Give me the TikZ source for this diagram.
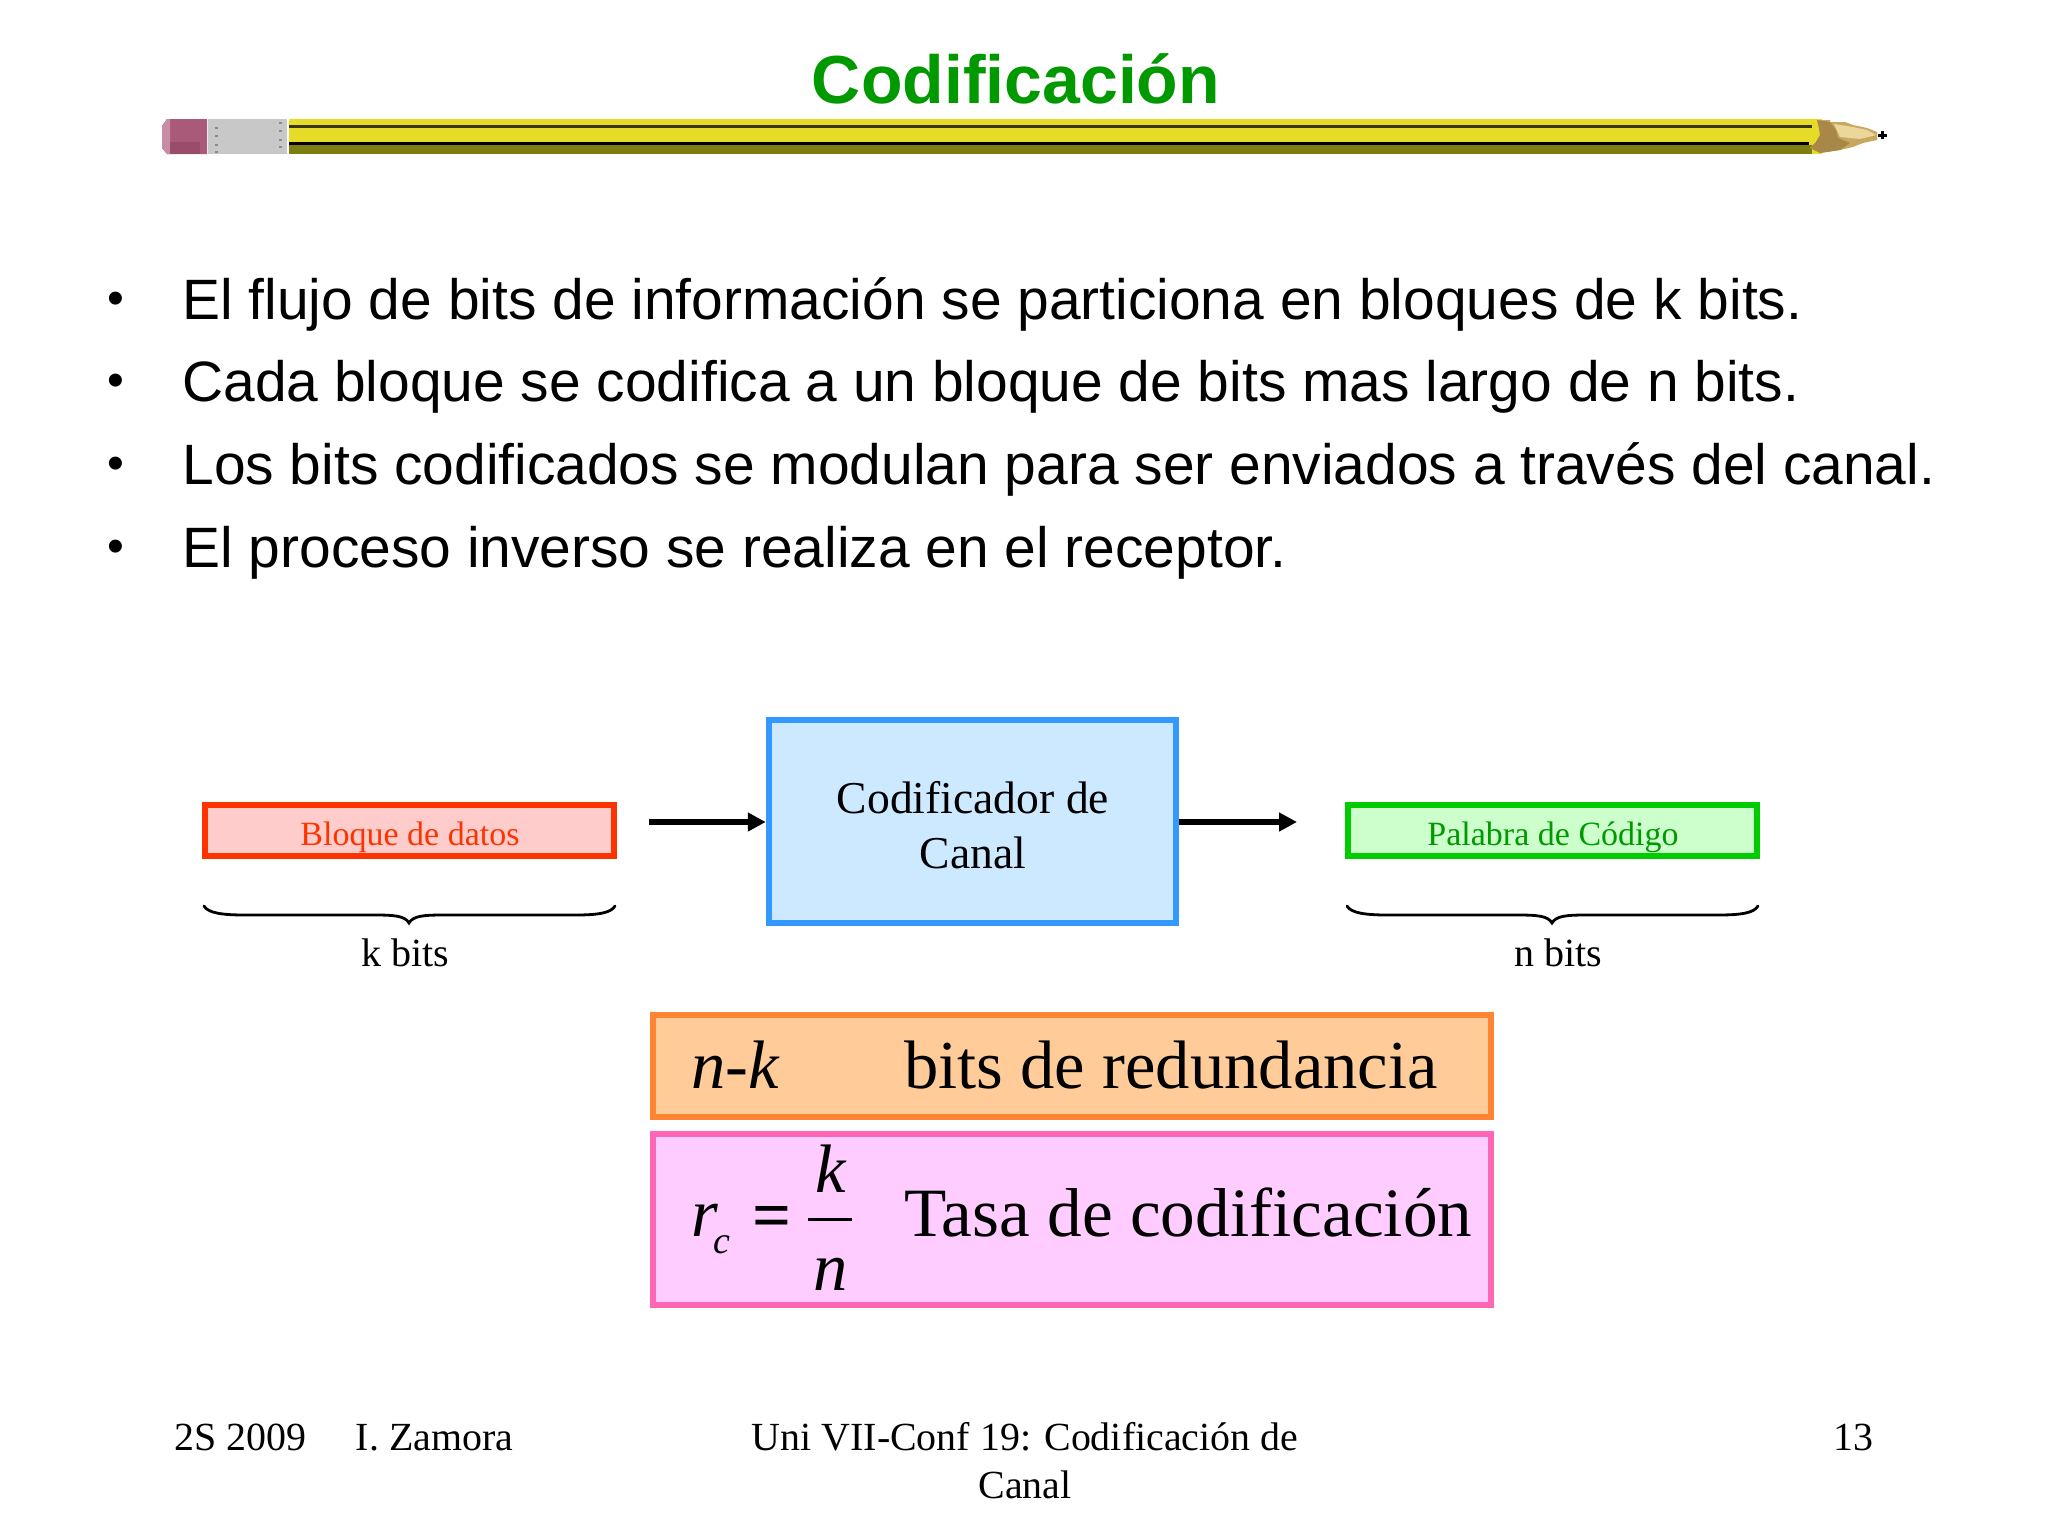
\documentclass[tikz,border=0pt]{standalone}
\usepackage{fontspec}
\setmainfont{Liberation Serif}
\newfontfamily\arialf{Liberation Sans}
\usetikzlibrary{arrows.meta}
\definecolor{titlegreen}{HTML}{009900}
\definecolor{redS}{HTML}{FF3300}\definecolor{redF}{HTML}{FFCCCC}
\definecolor{blueS}{HTML}{3399FF}\definecolor{blueF}{HTML}{CCE9FF}
\definecolor{greenS}{HTML}{00CC00}\definecolor{greenF}{HTML}{CCFFCC}\definecolor{greenT}{HTML}{009900}
\definecolor{orangeS}{HTML}{FF8533}\definecolor{orangeF}{HTML}{FFCC99}
\definecolor{pinkS}{HTML}{FF66B3}\definecolor{pinkF}{HTML}{FFCCFF}
\definecolor{eraser}{HTML}{A85A78}\definecolor{eraserD}{HTML}{8E3F60}\definecolor{eraserL}{HTML}{C88CA4}
\definecolor{ferrule}{HTML}{C8C8C8}\definecolor{ferruleD}{HTML}{8A8A8A}
\definecolor{yel}{HTML}{E6DC28}\definecolor{olive}{HTML}{7E7E10}\definecolor{darkl}{HTML}{3A3418}
\definecolor{wood}{HTML}{C8A860}\definecolor{woodL}{HTML}{EBD79C}\definecolor{woodD}{HTML}{A88848}
\newcommand{\fsz}[1]{\fontsize{#1}{#1}\selectfont}
\tikzset{
 boxb/.style={draw,line width=3pt,inner sep=0pt,align=center},
 txt/.style={inner sep=0pt,anchor=base},
 txtw/.style={inner sep=0pt,anchor=base west},
 bul/.style={txtw,font=\arialf\fsz{28.46}},
 foot/.style={txt,font=\fsz{19.95}},
 arrowk/.style={line width=2.8pt,-{Triangle[length=9pt,width=9pt]}},
 bracek/.style={line width=1.4pt,line cap=round},
 big/.style={txtw,font=\fsz{34.3}},
 mathi/.style={txt,font=\itshape\fsz{34.3}}
}
\begin{document}
\begin{tikzpicture}[x=0.5pt,y=-0.5pt]
\useasboundingbox (0,0) rectangle (2048,1536);
\fill[white] (0,0) rectangle (2048,1536);
% pencil
\fill[eraser] (162,126) -- (167,119) -- (207,119) -- (207,154) -- (167,154) -- (162,148) -- cycle;
\fill[eraserL] (162,126) -- (167,119) -- (170,119) -- (170,154) -- (167,154) -- (162,148) -- cycle;
\fill[eraserD,opacity=.5] (170,142) rectangle (200,154);
\fill[ferrule] (208,119) rectangle (287,154);
\foreach \yy in {127,135,144,151}{\fill[ferruleD] (215,\yy) rectangle (218,\yy+2);\fill[ferruleD] (279,\yy-5) rectangle (282,\yy-3);}
\fill[yel] (289,119) rectangle (1822,154);
\fill[darkl] (289,125) rectangle (1812,128);
\fill[black] (289,142) rectangle (1809,145);
\fill[olive] (289,145) rectangle (1812,154);
\fill[wood] (1817,120) -- (1830,120) -- (1830,122) -- (1845,122) -- (1853,125) -- (1867,128) -- (1877,132) -- (1877,140) -- (1863,143) -- (1853,147) -- (1840,150) -- (1820,153) -- (1810,148) -- (1816,142) -- (1820,135) -- (1819,128) -- cycle;
\fill[woodD] (1817,120) -- (1830,122) -- (1836,130) -- (1838,138) -- (1850,143) -- (1840,150) -- (1820,153) -- (1810,148) -- (1816,142) -- (1820,135) -- (1819,128) -- cycle;
\fill[woodL] (1834,124) -- (1853,127) -- (1867,130) -- (1876,135) -- (1860,139) -- (1840,137) -- cycle;
\draw[black,line width=1.5pt] (1878,135) -- (1887,135) (1882.5,131) -- (1882.5,139);
% title
\node[txt,font=\arialf\bfseries\fsz{34},text=titlegreen] (title) at (1016,104) {Codificación};
% bullets
\foreach \nm/\yy/\tt in {a/319/{El flujo de bits de información se particiona en bloques de k bits.},
  b/401/{Cada bloque se codifica a un bloque de bits mas largo de n bits.},
  c/484/{Los bits codificados se modulan para ser enviados a través del canal.},
  d/567/{El proceso inverso se realiza en el receptor.}}{
  \node[bul] (t\nm) at (182,\yy) {\tt};
  \node[txtw,font=\arialf\fsz{24}] (b\nm) at (106.6,\yy-5) {•};
}
% boxes
\node[boxb,draw=redS,fill=redF,minimum width=409pt*0.5,minimum height=51pt*0.5] (bloque) at (409.5,830.5) {};
\node[txt,text=redS,font=\fsz{17}] (lb) at (410,845) {Bloque de datos};
\node[boxb,draw=blueS,fill=blueF,minimum width=407.5pt*0.5,minimum height=203pt*0.5] (cod) at (972.5,821) {};
\node[txt,font=\fsz{22.8}] (c1) at (973,813) {Codificador de};
\node[txt,font=\fsz{22.8}] (c2) at (973,868) {Canal};
\node[boxb,draw=greenS,fill=greenF,minimum width=409pt*0.5,minimum height=51pt*0.5] (palabra) at (1552.5,830.5) {};
\node[txt,text=greenT,font=\fsz{17}] (lp) at (1553,845) {Palabra de Código};
\coordinate (ain) at (649,822);
\coordinate (aout) at (1297,822);
\draw[arrowk] (ain) -- (cod.west |- ain);
\draw[arrowk] (cod.east |- aout) -- (aout);
% braces
\draw[bracek] (204,906) .. controls (208,913) and (222,915) .. (245,915) -- (375,915) .. controls (395,915) and (405,916) .. (409,923) .. controls (413,916) and (423,915) .. (443,915) -- (575,915) .. controls (598,915) and (611,913) .. (615,906);
\draw[bracek] (1347,906) .. controls (1351,913) and (1365,915) .. (1388,915) -- (1518,915) .. controls (1538,915) and (1548,916) .. (1552,923) .. controls (1556,916) and (1566,915) .. (1586,915) -- (1718,915) .. controls (1741,915) and (1754,913) .. (1758,906);
\node[txt,font=\fsz{20}] (kb) at (405.5,966) {k bits};
\node[txt,font=\fsz{20}] (nb) at (1558.5,966) {n bits};
% formula boxes
\node[boxb,draw=orangeS,fill=orangeF,minimum width=838pt*0.5,minimum height=102pt*0.5] (obox) at (1072,1066) {};
\node[boxb,draw=pinkS,fill=pinkF,minimum width=838pt*0.5,minimum height=171pt*0.5] (pbox) at (1072,1219.5) {};
\node[txtw,font=\itshape\fsz{34.3}] (nk) at (691,1088) {n-k};
\node[big] (redu) at (904,1088) {bits de redundancia};
\node[txtw,font=\itshape\fsz{34.3}] (r) at (691,1236) {r\kern-2.5pt\raisebox{-8.5pt}{\fsz{19}c}};
\node[txt,font=\bfseries\fsz{34.3}] (eq) at (772,1238) {=};
\node[mathi] (k) at (830.5,1192) {k};
\node[mathi] (n) at (830.5,1290) {n};
\draw[line width=1.5pt] (808,1219) -- (852,1219);
\node[txtw,font=\fsz{34.6}] (tasa) at (904,1236) {Tasa de codificación};
% footer
\node[txtw,font=\fsz{19.95}] (f1) at (174,1450) {2S 2009};
\node[txtw,font=\fsz{19.95}] (f2) at (355.5,1450) {I. Zamora};
\node[foot] (f3) at (1025,1450) {Uni VII-Conf 19: Codificación de};
\node[foot] (f4) at (1025,1498) {Canal};
\node[inner sep=0pt,anchor=base east,font=\fsz{19.95}] (f5) at (1873.5,1450) {13};
\end{tikzpicture}
\end{document}
